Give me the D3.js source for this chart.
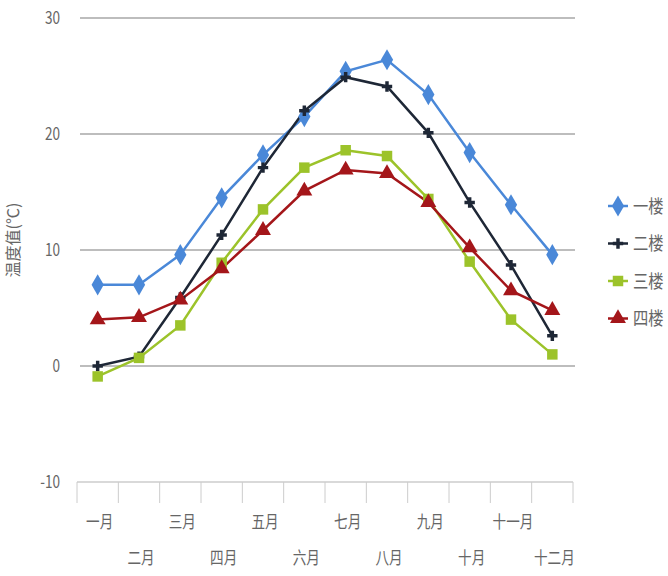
<!DOCTYPE html>
<html>
<head>
<meta charset="utf-8">
<script src="https://cdn.jsdelivr.net/npm/d3@7"></script>
<style>
  body { margin: 0; background: #fff; }
  text { font-family: "Noto Sans CJK SC", sans-serif; fill: #666; }
</style>
</head>
<body>
<div id="chart"></div>
<script>
const months = ["一月", "二月", "三月", "四月", "五月", "六月", "七月", "八月", "九月", "十月", "十一月", "十二月"];
const floors = ["一楼", "二楼", "三楼", "四楼"];
const floor1 = [7.0, 7.0, 9.6, 14.5, 18.2, 21.5, 25.4, 26.4, 23.4, 18.4, 13.9, 9.6];
const floor2 = [0.0, 0.8, 5.9, 11.3, 17.1, 22.0, 24.9, 24.1, 20.1, 14.1, 8.7, 2.6];
const floor3 = [-0.9, 0.7, 3.5, 8.9, 13.5, 17.1, 18.6, 18.1, 14.4, 9.0, 4.0, 1.0];
const floor4 = [4.0, 4.2, 5.7, 8.4, 11.7, 15.1, 16.9, 16.6, 14.1, 10.2, 6.5, 4.8];
const yTicks = [-10, 0, 10, 20, 30];
const colors = ["#4a88d8", "#1e2736", "#9cc32a", "#a4161a"];
const shapes = [d3.symbolDiamond, d3.symbolCross, d3.symbolSquare, d3.symbolTriangle];
const sizes = [130, 60, 110, 110];

const series = [floor1, floor2, floor3, floor4];

const width = 668, height = 576;
const margin = { top: 18, right: 95, bottom: 94, left: 77 };

const svg = d3.select("#chart").append("svg")
  .attr("width", width)
  .attr("height", height);

const x = d3.scaleBand().domain(months).range([margin.left, 573]);
const y = d3.scaleLinear().domain([-10, 30]).range([482, 18]);

// grid lines
svg.append("g")
  .selectAll("line")
  .data(yTicks.filter(d => d > -10))
  .join("line")
  .attr("x1", 80).attr("x2", 575)
  .attr("y1", d => y(d)).attr("y2", d => y(d))
  .attr("stroke", "#bdbdbd")
  .attr("stroke-width", 2);

// y labels
svg.append("g")
  .selectAll("text")
  .data(yTicks)
  .join("text")
  .attr("transform", d => `translate(60,${y(d)}) scale(0.85,1.1)`)
  .attr("dy", "0.35em")
  .attr("text-anchor", "end")
  .attr("font-size", 16)
  .text(d => d);

svg.append("text")
  .attr("transform", "translate(19,240) rotate(-90)")
  .attr("text-anchor", "middle")
  .attr("font-size", 16)
  .attr("fill", "#999")
  .text("温度值(℃)");

// x axis
svg.append("line")
  .attr("x1", 77).attr("x2", 573)
  .attr("y1", 482).attr("y2", 482)
  .attr("stroke", "#ccc").attr("stroke-width", 1.5);

svg.append("g")
  .selectAll("line")
  .data(d3.range(months.length + 1))
  .join("line")
  .attr("x1", i => margin.left + i * x.step())
  .attr("x2", i => margin.left + i * x.step())
  .attr("y1", 482).attr("y2", 503)
  .attr("stroke", "#ccc").attr("stroke-width", 1);

svg.append("g")
  .selectAll("text")
  .data(months)
  .join("text")
  .attr("transform", (d, i) => `translate(${x(d) + x.bandwidth() / 2 + 2},${i % 2 === 0 ? 522 : 558}) scale(0.85,1.1)`)
  .attr("dy", "0.35em")
  .attr("text-anchor", "middle")
  .attr("font-size", 16)
  .text(d => d);

// lines
const line = d3.line()
  .x((d, i) => x(months[i]) + x.bandwidth() / 2)
  .y(d => y(d));

series.forEach((s, k) => {
  svg.append("path")
    .datum(s)
    .attr("fill", "none")
    .attr("stroke", colors[k])
    .attr("stroke-width", 2.5)
    .attr("d", line);
});

series.forEach((s, k) => {
  svg.append("g")
    .selectAll("path")
    .data(s)
    .join("path")
    .attr("transform", (d, i) => `translate(${x(months[i]) + x.bandwidth() / 2},${y(d)})`)
    .attr("d", d3.symbol().type(shapes[k]).size(sizes[k]))
    .attr("fill", colors[k]);
});

// legend
const legend = svg.append("g")
  .selectAll("g")
  .data(floors)
  .join("g")
  .attr("transform", (d, i) => `translate(618,${206 + i * 37.5})`);

legend.append("line")
  .attr("x1", -10).attr("x2", 10)
  .attr("stroke", (d, i) => colors[i])
  .attr("stroke-width", 2.5);

legend.append("path")
  .attr("d", (d, i) => d3.symbol().type(shapes[i]).size(sizes[i])())
  .attr("fill", (d, i) => colors[i]);

legend.append("text")
  .attr("transform", "translate(15,0) scale(0.9,1.1)")
  .attr("dy", "0.35em")
  .attr("font-size", 17)
  .attr("fill", "#444")
  .text(d => d);
</script>
</body>
</html>
